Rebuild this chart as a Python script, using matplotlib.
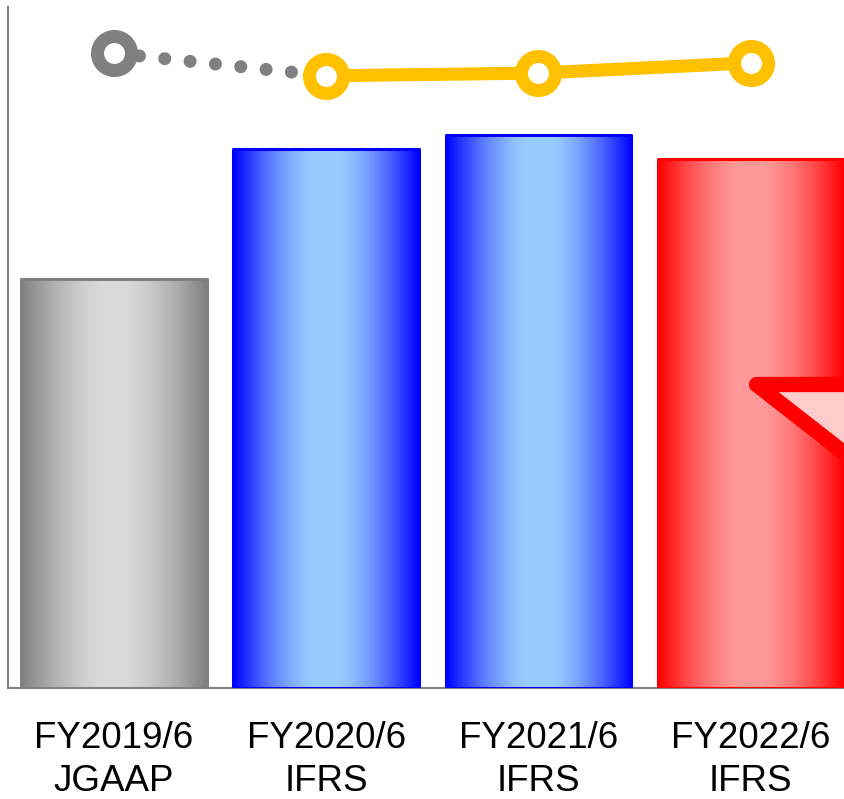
import numpy as np
import matplotlib
matplotlib.use('Agg')
import matplotlib.pyplot as plt
from matplotlib.patches import Rectangle, Polygon
from matplotlib.colors import to_rgb

# 数据
categories = ['FY2019/6\nJGAAP', 'FY2020/6\nIFRS', 'FY2021/6\nIFRS', 'FY2022/6\nIFRS']
bar_values = [60.1, 79.2, 81.2, 77.7]
line_values = [93.2, 89.9, 90.3, 91.8]

# 颜色: (边缘深色, 中心浅色)
bar_colors = [('#808080', '#D9D9D9'),
              ('#0000FF', '#99CCFF'),
              ('#0000FF', '#99CCFF'),
              ('#FF0000', '#FF9999')]
gray = '#808080'
yellow = '#FFC000'


def gradient_row(dark, light, n=200):
    t = np.linspace(0, 1, n)
    d = np.abs(t - 0.5) * 2
    w = (np.clip((d - 0.12) / 0.88, 0, 1) ** 1.5)[:, None]
    dark, light = np.array(to_rgb(dark)), np.array(to_rgb(light))
    return (light + (dark - light) * w)[None, :, :]


def main():
    plt.rcParams['font.family'] = ['Liberation Sans', 'DejaVu Sans']
    fig = plt.figure(figsize=(8.44, 7.99), dpi=100)
    ax = fig.add_axes([8 / 844, 111 / 799, 836 / 844, 681 / 799])

    x = np.arange(len(categories))
    width = 0.875
    ax.set_xlim(-0.5, 3.44)
    ax.set_ylim(0, 100)

    # 渐变柱
    for xi, h, (dark, light) in zip(x, bar_values, bar_colors):
        x0 = xi - width / 2
        im = ax.imshow(gradient_row(dark, light), extent=[x0, x0 + width, 0, h],
                       aspect='auto', interpolation='bilinear', zorder=3)
        rect = Rectangle((x0, 0), width, h, facecolor='none', edgecolor=dark,
                         linewidth=2.2, zorder=4, joinstyle='round')
        ax.add_patch(rect)
        im.set_clip_path(rect)

    # 折线: 第一段灰色虚线, 其余黄色实线
    lw = 9.4
    ax.plot(x[:2], line_values[:2], color=gray, linewidth=lw, linestyle=(0, (0.001, 1.95)),
            dash_capstyle='round', zorder=5)
    ax.plot(x[1:], line_values[1:], color=yellow, linewidth=lw, solid_capstyle='round', zorder=6)
    ax.plot(x[:1], line_values[:1], 'o', color=gray, markersize=24.5,
            markerfacecolor='white', markeredgewidth=lw, zorder=7)
    ax.plot(x[1:], line_values[1:], 'o', color=yellow, markersize=24.5,
            markerfacecolor='white', markeredgewidth=lw, zorder=7)

    # 红色三角标记
    tri = Polygon([(3.024, 44.6), (3.8, 44.6), (3.8, 25.9)], closed=True,
                  facecolor='#FFCCCC', edgecolor='#FF0000', linewidth=11,
                  joinstyle='round', zorder=8, clip_on=False)
    ax.add_patch(tri)

    # 坐标轴
    ax.set_xticks(x)
    ax.set_xticklabels(categories, fontsize=26.5, linespacing=1.28)
    ax.tick_params(axis='x', length=0, pad=24)
    ax.set_yticks([])
    for side in ['top', 'right']:
        ax.spines[side].set_visible(False)
    for side in ['left', 'bottom']:
        ax.spines[side].set_color(gray)
        ax.spines[side].set_linewidth(1.5)

    fig.savefig('out.png', dpi=100)


if __name__ == '__main__':
    main()
